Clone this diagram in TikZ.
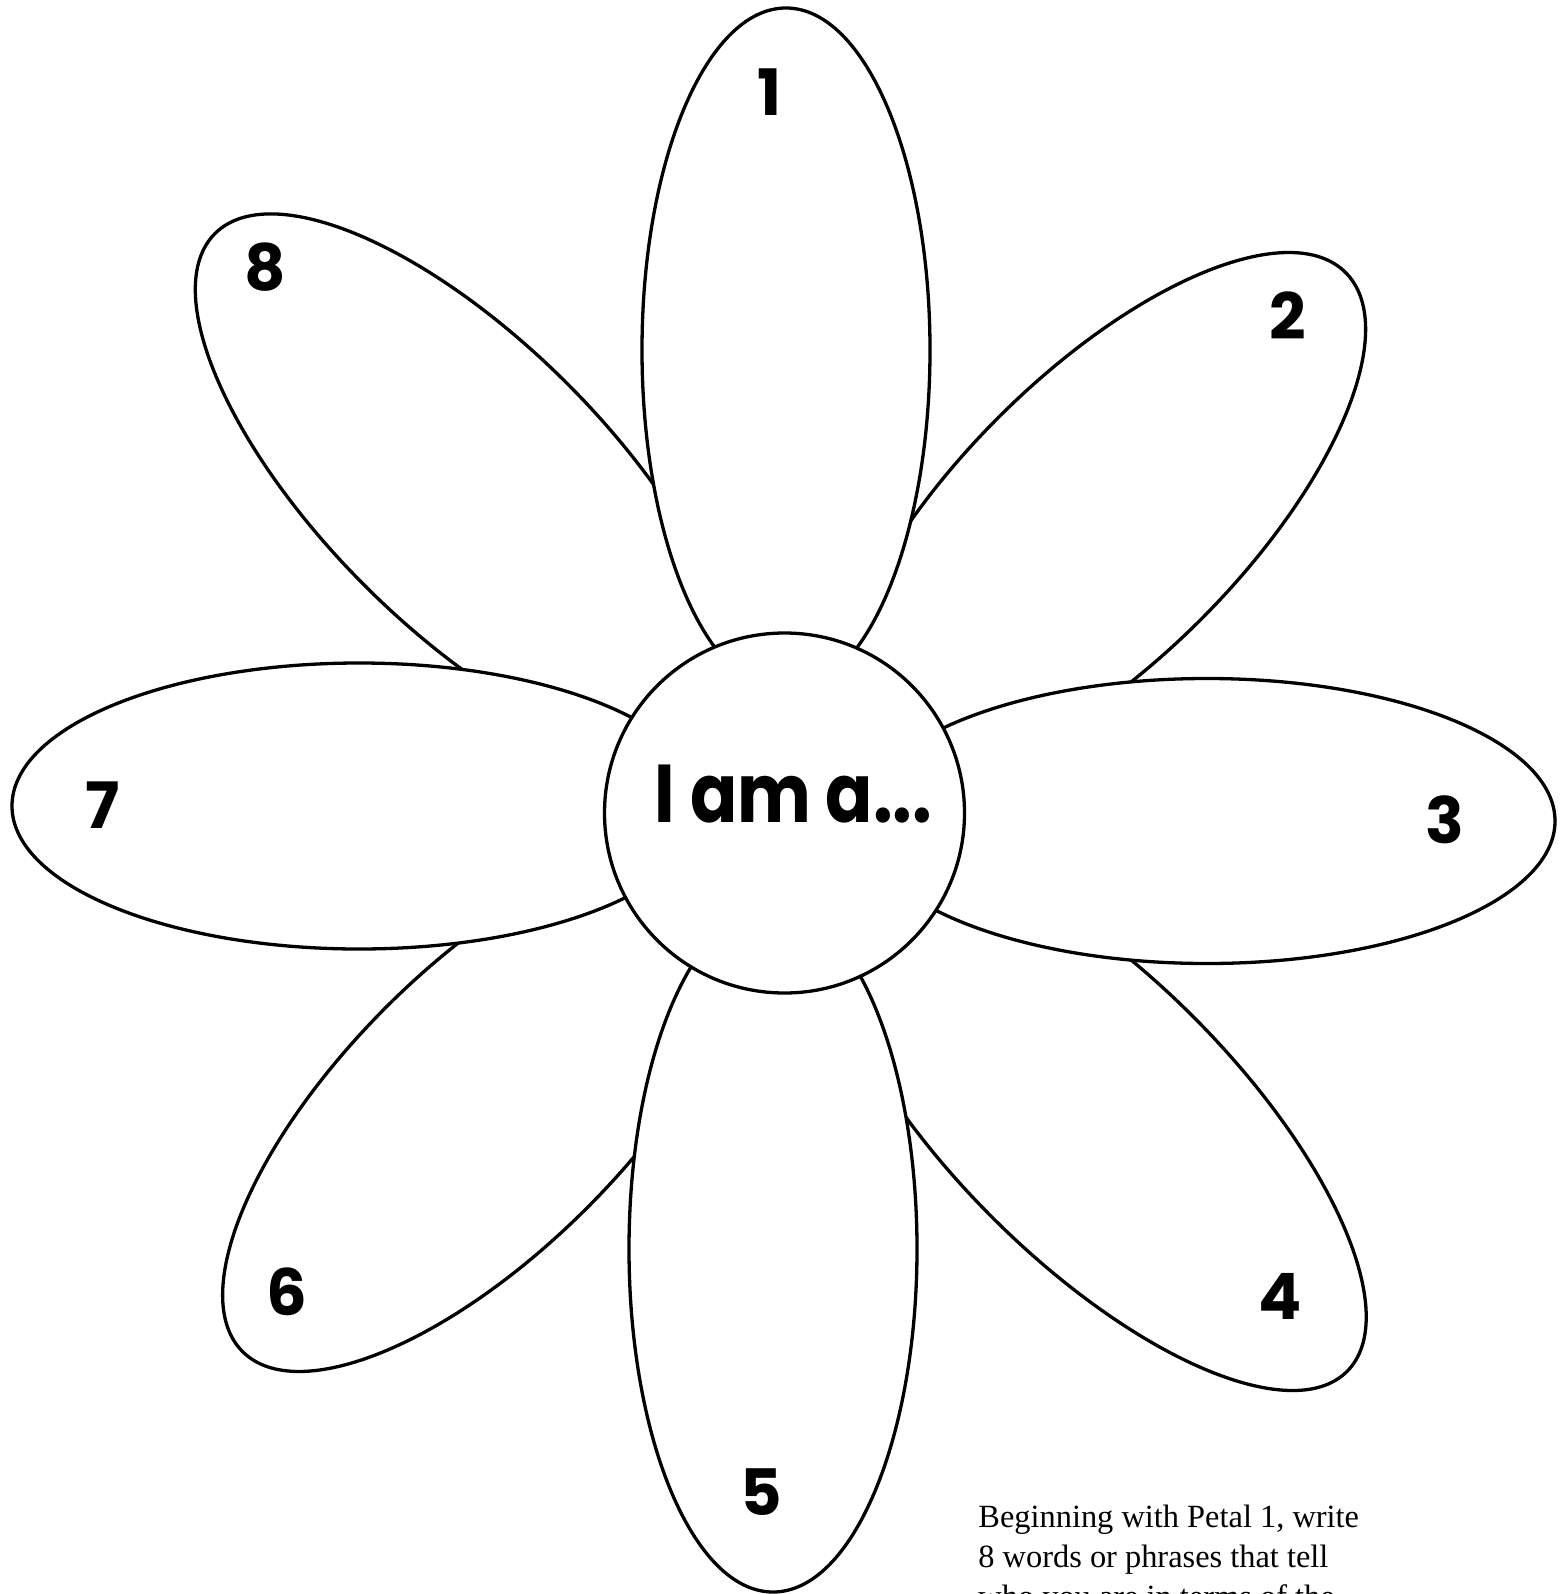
\documentclass[tikz,border=0pt]{standalone}
\usepackage{fontspec}
\setmainfont{Liberation Serif}
\newfontfamily\geo{Poppins}
\newfontfamily\geonarrow{Poppins}[FakeStretch=0.85]
\begin{document}
\begin{tikzpicture}[x=0.5pt,y=-0.5pt,
  petal/.style={draw=black, fill=white, line width=1.65pt},
  num/.style={font=\geo\bfseries\fontsize{32}{32}\selectfont, inner sep=0pt},
  body/.style={font=\fontsize{16.2}{20}\selectfont, inner sep=0pt, anchor=base west},
  title/.style={font=\geonarrow\bfseries\fontsize{41}{41}\selectfont, inner sep=0pt, anchor=base}]
\useasboundingbox (0,0) rectangle (1564,1594);
\clip (0,0) rectangle (1564,1594);
% diagonal petals (underneath)
\path[petal, rotate around={-45:(466,484.6)}] (466,484.6) ellipse [x radius=355, y radius=143];
\path[petal, rotate around={45:(1099.5,518.6)}] (1099.5,518.6) ellipse [x radius=348, y radius=143];
\path[petal, rotate around={-45:(1092.5,1116.8)}] (1092.5,1116.8) ellipse [x radius=360, y radius=142];
\path[petal, rotate around={45:(486.5,1107.6)}] (486.5,1107.6) ellipse [x radius=345, y radius=142];
% cardinal petals
\path[petal] (786,350) ellipse [x radius=144, y radius=342];
\path[petal] (1207,821) ellipse [x radius=348, y radius=142.5];
\path[petal] (773,1249) ellipse [x radius=144, y radius=343];
\path[petal] (359,806) ellipse [x radius=347, y radius=143];
% centre
\node[petal, circle, minimum size=180pt, inner sep=0pt] (centre) at (784.5,813) {};
\node[title] (iama) at (793.5,822.7) {I am a...};
% numbers
\node[num] (n1) at (770,92) {1};
\node[num] (n2) at (1288,316) {2};
\node[num] (n3) at (1445,820) {3};
\node[num] (n4) at (1280,1296) {4};
\node[num] (n5) at (761.5,1492.5) {5};
\node[num] (n6) at (286.5,1291.5) {6};
\node[num] (n7) at (103,805.5) {7};
\node[num] (n8) at (265,267.5) {8};
% instructions
\node[body] (l1) at (978,1527) {Beginning with Petal 1, write};
\node[body] (l2) at (978,1567) {8 words or phrases that tell};
\node[body] (l3) at (978,1607) {who you are in terms of the};
\end{tikzpicture}
\end{document}
